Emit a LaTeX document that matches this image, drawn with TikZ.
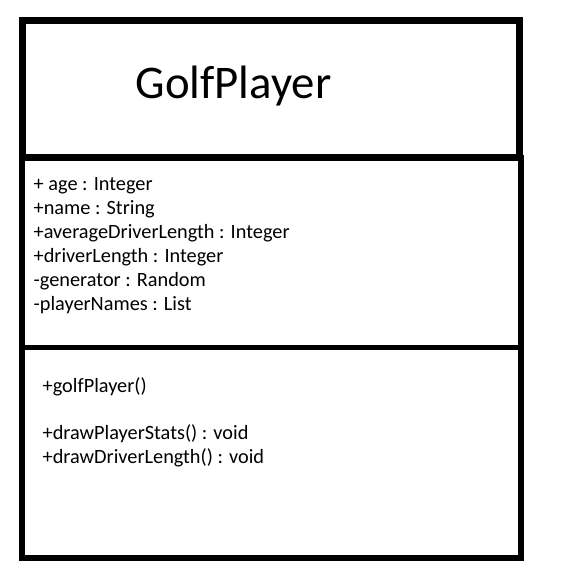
\documentclass[tikz,border=0pt]{standalone}
\usepackage{fontspec}
\setmainfont{Carlito}

\begin{document}
\begin{tikzpicture}[x=1pt, y=-1pt,
    frame/.style={line width=7pt},
    divider/.style={line width=5.5pt},
    title/.style={anchor=base west, inner sep=0pt, font=\fontsize{46.8}{56}\selectfont},
    member/.style={anchor=base west, inner sep=0pt, font=\fontsize{20.3}{24}\selectfont}]
\useasboundingbox (0,0) rectangle (569,580);

% class box
\draw [frame] (22.5, 20.5) rectangle (519, 158);
\draw [line width=6pt] (21.5, 158) rectangle (520.5, 557.5);
\draw [divider] (21.5, 347.5) -- (520.5, 347.5);

\node [title] at (135.3, 98.3) (GP) {GolfPlayer};

% attributes
\node [member] at (33.5, 190.2) (age) {+ age : Integer};
\node [member] at (33.5, 214.2) (name) {+name : String};
\node [member] at (33.5, 238.2) (avg) {+averageDriverLength : Integer};
\node [member] at (33.5, 262.2) (drv) {+driverLength : Integer};
\node [member] at (33.5, 286.2) (gen) {-generator : Random};
\node [member] at (33.5, 310.2) (names) {-playerNames : List};

% operations
\node [member] at (42.5, 392.7) (ctor) {+golfPlayer()};
\node [member] at (42.5, 439.5) (stats) {+drawPlayerStats() : void};
\node [member] at (42.5, 463.0) (len) {+drawDriverLength() : void};

\end{tikzpicture}
\end{document}
